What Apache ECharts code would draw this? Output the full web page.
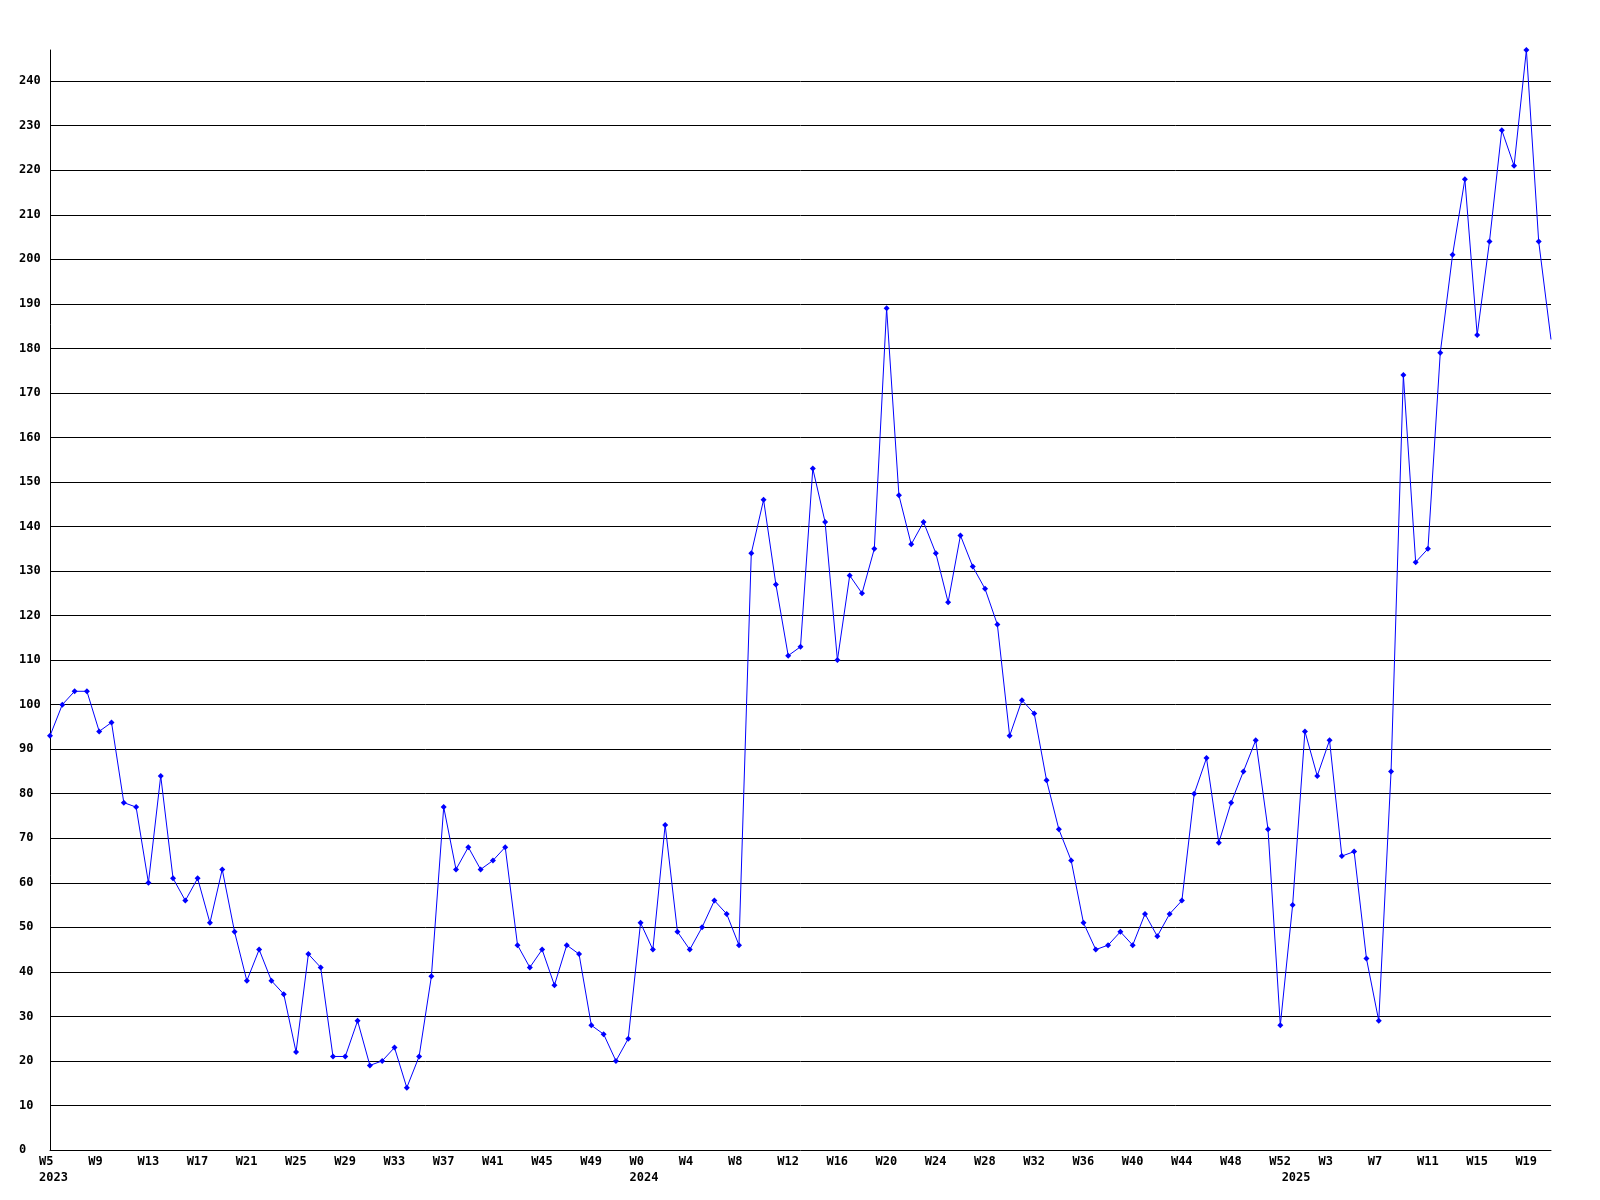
<!DOCTYPE html>
<html>
<head>
<meta charset="utf-8">
<script src="https://cdn.jsdelivr.net/npm/echarts@6/dist/echarts.min.js"></script>
<style>
html,body{margin:0;padding:0;background:#fff;}
#chart{width:1600px;height:1200px;}
</style>
</head>
<body>
<div id="chart"></div>
<script>
// Week categories
const weeks2023 = ["W5","W6","W7","W8","W9","W10","W11","W12","W13","W14","W15","W16","W17","W18","W19","W20","W21","W22","W23","W24","W25","W26","W27","W28","W29","W30","W31","W32","W33","W34","W35","W36","W37","W38","W39","W40","W41","W42","W43","W44","W45","W46","W47","W48","W49","W50","W51","W52"];
const weeks2024 = ["W0","W1","W2","W3","W4","W5","W6","W7","W8","W9","W10","W11","W12","W13","W14","W15","W16","W17","W18","W19","W20","W21","W22","W23","W24","W25","W26","W27","W28","W29","W30","W31","W32","W33","W34","W35","W36","W37","W38","W39","W40","W41","W42","W43","W44","W45","W46","W47","W48","W49","W50","W51","W52"];
const weeks2025 = ["W0","W1","W2","W3","W4","W5","W6","W7","W8","W9","W10","W11","W12","W13","W14","W15","W16","W17","W18","W19","W20","W21"];

// Values per year
const values2023 = [93,100,103,103,94,96,78,77,60,84,61,56,61,51,63,49,38,45,38,35,22,44,41,21,21,29,19,20,23,14,21,39,77,63,68,63,65,68,46,41,45,37,46,44,28,26,20,25];
const values2024 = [51,45,73,49,45,50,56,53,46,134,146,127,111,113,153,141,110,129,125,135,189,147,136,141,134,123,138,131,126,118,93,101,98,83,72,65,51,45,46,49,46,53,48,53,56,80,88,69,78,85,92,72,28];
const values2025 = [55,94,84,92,66,67,43,29,85,174,132,135,179,201,218,183,204,229,221,247,204,182];

// Year tick labels (placed at the first week of each year)
const yearLabels = ["2023","2024","2025"];

const categories = weeks2023.concat(weeks2024, weeks2025);
const values = values2023.concat(values2024, values2025);
const yearStart = {0: yearLabels[0]};
yearStart[weeks2023.length] = yearLabels[1];
yearStart[weeks2023.length + weeks2024.length] = yearLabels[2];

// the final point sits on the plot edge and shows no marker in the reference
const seriesData = values.map(function (v, i) {
  return i === values.length - 1 ? {value: v, symbol: 'none'} : v;
});

const FONT = '"DejaVu Sans Mono", "Liberation Mono", monospace';
const chart = echarts.init(document.getElementById('chart'), null, {renderer: 'canvas'});
chart.setOption({
  animation: false,
  backgroundColor: '#ffffff',
  grid: {left: 50, right: 49, top: 50, bottom: 50, containLabel: false},
  xAxis: {
    type: 'category',
    data: categories,
    boundaryGap: false,
    axisLine: {show: true, onZero: false, lineStyle: {color: '#000', width: 1}},
    axisTick: {show: false},
    splitLine: {show: false},
    axisLabel: {
      interval: function (idx) { return idx % 4 === 0 || yearStart[idx] !== undefined; },
      formatter: function (val, idx) {
        const shown = idx % 4 === 0;
        const y = yearStart[idx];
        if (y !== undefined) return (shown ? val : '') + '\n' + y;
        return val;
      },
      align: 'left',
      padding: [0, 0, 0, -11],
      margin: 4,
      lineHeight: 16,
      color: '#000',
      fontFamily: FONT,
      fontWeight: 'bold',
      fontSize: 12
    }
  },
  yAxis: {
    type: 'value',
    min: 0,
    max: 247,
    interval: 10,
    axisLine: {show: true, lineStyle: {color: '#000', width: 1}},
    axisTick: {show: false},
    splitLine: {show: true, showMinLine: false, showMaxLine: false, lineStyle: {color: '#000', width: 1}},
    axisLabel: {
      showMaxLabel: false,
      formatter: function (v) { return v % 10 === 0 ? String(v) : ''; },
      align: 'left',
      margin: 31,
      color: '#000',
      fontFamily: FONT,
      fontWeight: 'bold',
      fontSize: 12
    }
  },
  series: [{
    type: 'line',
    data: seriesData,
    showAllSymbol: true,
    symbol: 'diamond',
    symbolSize: 6,
    itemStyle: {color: '#0000ff'},
    lineStyle: {color: '#0000ff', width: 1},
    emphasis: {disabled: true}
  }]
});
</script>
</body>
</html>
